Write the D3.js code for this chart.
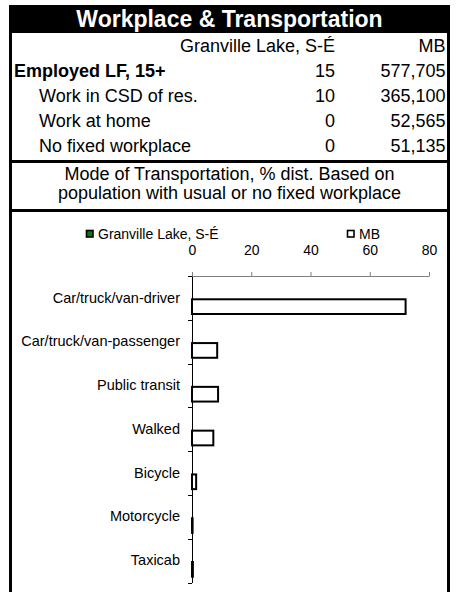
<!DOCTYPE html>
<html><head><meta charset="utf-8">
<script src="https://cdn.jsdelivr.net/npm/d3@7"></script>
<style>
html,body{margin:0;padding:0;background:#fff;}
svg{display:block;font-family:"Liberation Sans",Arial,Helvetica,sans-serif;}
</style>
</head><body>
<svg id="chart" width="458" height="592"></svg>
<script>
// ---- data ----
const title = "Workplace & Transportation";
const areaNames = ["Granville Lake, S-É", "MB"];
const rowLabels = ["Employed LF, 15+", "Work in CSD of res.", "Work at home", "No fixed workplace"];
const granvilleCounts = [15, 10, 0, 0];
const mbCounts = [577705, 365100, 52565, 51135];
const subtitleLines = ["Mode of Transportation, % dist. Based on", "population with usual or no fixed workplace"];
const categories = ["Car/truck/van-driver", "Car/truck/van-passenger", "Public transit", "Walked", "Bicycle", "Motorcycle", "Taxicab"];
const granvilleShares = [0, 0, 0, 0, 0, 0, 0];
const mbShares = [72.1, 8.5, 8.8, 7.2, 1.4, 0.2, 0.3];
const xTicks = [0, 20, 40, 60, 80];
const seriesColors = ["#008000", "#ffffff"];

// ---- drawing ----
const svg = d3.select("#chart");
const fmt = d3.format(",");

// title bar
svg.append("rect").attr("x", 9).attr("y", 5).attr("width", 441).attr("height", 28).attr("fill", "#000");
svg.append("text").attr("x", 229.5).attr("y", 27).attr("text-anchor", "middle")
  .attr("fill", "#fff").attr("font-weight", "bold").attr("font-size", 23).text(title);

// frame lines
const frame = svg.append("g").attr("stroke", "#000").attr("stroke-width", 3);
frame.append("line").attr("x1", 10.5).attr("x2", 10.5).attr("y1", 5).attr("y2", 592);
frame.append("line").attr("x1", 448.5).attr("x2", 448.5).attr("y1", 5).attr("y2", 592);
frame.append("line").attr("x1", 9).attr("x2", 450).attr("y1", 161.5).attr("y2", 161.5);
frame.append("line").attr("x1", 9).attr("x2", 450).attr("y1", 210.5).attr("y2", 210.5);

// table
const tbl = svg.append("g").attr("font-size", 18).attr("fill", "#000");
const colG = 335, colM = 445.5;
tbl.append("text").attr("x", colG).attr("y", 52).attr("text-anchor", "end").text(areaNames[0]);
tbl.append("text").attr("x", colM).attr("y", 52).attr("text-anchor", "end").text(areaNames[1]);
rowLabels.forEach((lab, i) => {
  const y = 77 + i * 25;
  tbl.append("text").attr("x", i === 0 ? 14 : 39).attr("y", y)
    .attr("font-weight", i === 0 ? "bold" : null).text(lab);
  tbl.append("text").attr("x", colG).attr("y", y).attr("text-anchor", "end").text(fmt(granvilleCounts[i]));
  tbl.append("text").attr("x", colM).attr("y", y).attr("text-anchor", "end").text(fmt(mbCounts[i]));
});

// subtitle
subtitleLines.forEach((t, i) => {
  svg.append("text").attr("x", 229.5).attr("y", 179.5 + i * 19).attr("text-anchor", "middle")
    .attr("font-size", 18).attr("fill", "#000").text(t);
});

// legend
const legendItems = [{name: areaNames[0], x: 86.5}, {name: areaNames[1], x: 347.5}];
legendItems.forEach((d, i) => {
  svg.append("rect").attr("x", d.x).attr("y", 230.5).attr("width", 6.5).attr("height", 6.5)
    .attr("fill", seriesColors[i]).attr("stroke", "#000").attr("stroke-width", 1.6);
  svg.append("text").attr("x", d.x + 11.5).attr("y", 238.5).attr("font-size", 14).attr("fill", "#000").text(d.name);
});

// scales
const x = d3.scaleLinear().domain([0, 80]).range([192, 429]);
const y = d3.scaleBand().domain(categories).range([276, 582.5]).paddingInner(0).paddingOuter(0);
const ySub = d3.scaleBand().domain(["G", "M"]).range([0, y.bandwidth()]).paddingInner(0.16).paddingOuter(0.331);

// x axis (top)
const xAxis = svg.append("g").attr("transform", "translate(0,276)")
  .call(d3.axisTop(x).tickValues(xTicks).tickSize(4).tickSizeOuter(0).tickPadding(17.5));
xAxis.select(".domain").attr("stroke", "#808080");
xAxis.selectAll(".tick line").attr("stroke", "#808080");
xAxis.selectAll(".tick text").attr("font-size", 14).attr("fill", "#000")
  .attr("font-family", "'Liberation Sans',Arial,sans-serif");

// y axis (left)
const yAxis = svg.append("g").attr("transform", "translate(192,0)")
  .call(d3.axisLeft(y).tickSize(0).tickPadding(12));
yAxis.select(".domain").attr("stroke", "#000");
yAxis.selectAll(".tick text").attr("font-size", 14.5).attr("fill", "#000")
  .attr("font-family", "'Liberation Sans',Arial,sans-serif");
const bounds = categories.map(c => y(c)).concat([y.range()[1]]);
yAxis.selectAll(".bound").data(bounds).enter().append("line").attr("class", "bound")
  .attr("x1", -4).attr("x2", 0)
  .attr("y1", d => Math.round(d) + 0.5).attr("y2", d => Math.round(d) + 0.5)
  .attr("stroke", "#000");

// bars
const series = [{key: "G", values: granvilleShares, color: seriesColors[0]},
                {key: "M", values: mbShares, color: seriesColors[1]}];
series.forEach(s => {
  svg.append("g").selectAll("rect")
    .data(categories.map((c, i) => ({c, v: s.values[i]})).filter(d => d.v > 0))
    .enter().append("rect")
    .attr("x", x(0))
    .attr("y", d => y(d.c) + ySub(s.key))
    .attr("width", d => x(d.v) - x(0))
    .attr("height", ySub.bandwidth())
    .attr("fill", s.color).attr("stroke", "#000").attr("stroke-width", 2);
});
</script>
</body></html>
